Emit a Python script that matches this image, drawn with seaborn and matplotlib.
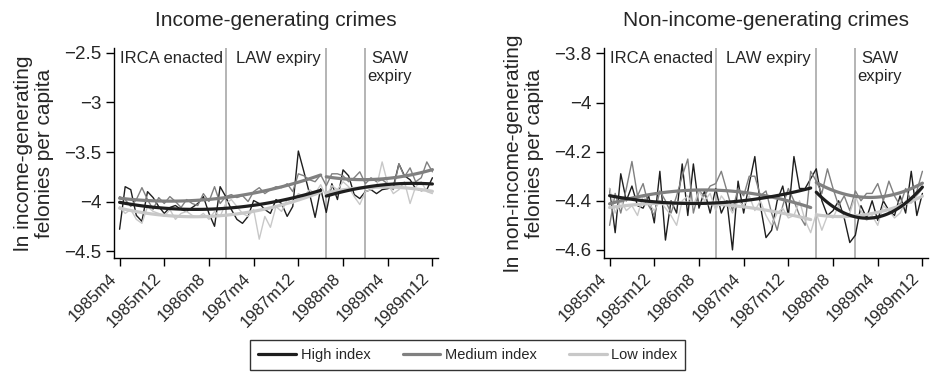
import matplotlib
matplotlib.use("Agg")
import matplotlib.pyplot as plt
import matplotlib.transforms as mtransforms
import seaborn as sns
import numpy as np
import pandas as pd

# months 1985m4 .. 1989m12 as index 0..56
months = np.arange(57)
tick_pos = [0, 8, 16, 24, 32, 40, 48, 56]
tick_lab = ["1985m4", "1985m12", "1986m8", "1987m4", "1987m12", "1988m8", "1989m4", "1989m12"]
events = [19, 37, 44]          # 1986m11, 1988m5, 1988m12
break_at = 37                  # fits are split at LAW expiry

series = ["High index", "Medium index", "Low index"]
colors = ["#1e1e1e", "#808080", "#c8c8c8"]

# income-generating crimes
inc_high = [-4.28, -3.85, -3.88, -4.14, -4.20, -3.90, -3.96, -4.05, -4.12, -4.06,
            -4.04, -4.08, -4.10, -4.06, -4.02, -3.95, -4.12, -4.25, -3.85, -3.95,
            -4.08, -4.18, -4.22, -4.15, -3.99, -4.02, -4.08, -4.12, -3.98, -4.02,
            -4.15, -4.05, -3.49, -3.70, -3.92, -4.16, -3.87, -4.11, -3.82, -3.98,
            -3.68, -3.74, -3.93, -3.97, -3.90, -3.88, -3.92, -3.88, -3.87, -3.85,
            -3.62, -3.74, -3.78, -3.87, -3.89, -3.88, -3.76]
inc_med = [-3.95, -3.98, -4.05, -3.98, -3.86, -3.98, -4.08, -3.96, -4.02, -3.95,
           -4.00, -4.06, -3.98, -4.02, -4.04, -3.92, -4.00, -3.85, -4.02, -3.95,
           -3.93, -3.96, -3.94, -4.00, -3.90, -3.86, -3.92, -3.88, -3.85, -3.86,
           -3.82, -3.90, -3.72, -3.74, -3.78, -3.80, -3.73, -3.84, -3.72, -3.72,
           -3.74, -3.80, -3.76, -3.70, -3.82, -3.76, -3.80, -3.78, -3.82, -3.88,
           -3.62, -3.75, -3.66, -3.80, -3.76, -3.60, -3.70]
inc_low = [-4.05, -4.12, -4.08, -4.18, -4.22, -4.05, -4.10, -4.12, -4.15, -4.08,
           -4.18, -4.12, -4.10, -4.14, -4.16, -4.12, -4.18, -4.10, -4.15, -4.02,
           -3.98, -4.05, -4.12, -4.15, -4.08, -4.38, -4.15, -4.26, -4.05, -4.10,
           -3.98, -4.02, -3.92, -3.95, -3.88, -3.92, -3.83, -3.95, -3.84, -3.88,
           -3.80, -3.85, -3.95, -4.03, -3.90, -3.88, -3.85, -3.60, -3.82, -3.92,
           -3.88, -3.80, -4.02, -3.85, -3.80, -3.90, -3.92]

# non-income-generating crimes
non_high = [-4.35, -4.53, -4.29, -4.40, -4.34, -4.42, -4.43, -4.38, -4.49, -4.28,
            -4.56, -4.40, -4.45, -4.25, -4.46, -4.25, -4.43, -4.36, -4.45, -4.35,
            -4.45, -4.40, -4.60, -4.32, -4.45, -4.33, -4.22, -4.42, -4.55, -4.52,
            -4.40, -4.34, -4.46, -4.22, -4.35, -4.35, -4.31, -4.27, -4.40, -4.46,
            -4.44, -4.40, -4.47, -4.57, -4.54, -4.42, -4.47, -4.40, -4.48, -4.40,
            -4.44, -4.46, -4.38, -4.45, -4.28, -4.46, -4.37]
non_med = [-4.50, -4.37, -4.45, -4.35, -4.24, -4.38, -4.33, -4.42, -4.46, -4.36,
           -4.40, -4.45, -4.38, -4.30, -4.23, -4.45, -4.36, -4.38, -4.34, -4.33,
           -4.28, -4.36, -4.44, -4.35, -4.38, -4.30, -4.30, -4.38, -4.36, -4.45,
           -4.52, -4.42, -4.35, -4.40, -4.46, -4.50, -4.28, -4.32, -4.37, -4.27,
           -4.35, -4.42, -4.38, -4.44, -4.36, -4.40, -4.37, -4.37, -4.33, -4.40,
           -4.32, -4.38, -4.42, -4.35, -4.40, -4.36, -4.28]
non_low = [-4.35, -4.45, -4.40, -4.44, -4.42, -4.46, -4.38, -4.41, -4.44, -4.40,
           -4.43, -4.46, -4.50, -4.40, -4.38, -4.42, -4.36, -4.40, -4.37, -4.44,
           -4.38, -4.41, -4.45, -4.40, -4.42, -4.38, -4.44, -4.40, -4.46, -4.50,
           -4.45, -4.43, -4.47, -4.46, -4.40, -4.48, -4.53, -4.45, -4.52, -4.46,
           -4.47, -4.42, -4.47, -4.45, -4.38, -4.44, -4.48, -4.46, -4.50, -4.42,
           -4.44, -4.47, -4.45, -4.40, -4.41, -4.38, -4.35]

inc_yticks = [-2.5, -3, -3.5, -4, -4.5]
non_yticks = [-3.8, -4, -4.2, -4.4, -4.6]

panels = [
    dict(title="Income-generating crimes",
         ylabel="ln income-generating\nfelonies per capita",
         data=[inc_high, inc_med, inc_low], yticks=inc_yticks, ylim=(-4.57, -2.45),
         left=114 / 932),
    dict(title="Non-income-generating crimes",
         ylabel="ln non-income-generating\nfelonies per capita",
         data=[non_high, non_med, non_low], yticks=non_yticks, ylim=(-4.633, -3.778),
         left=604 / 932),
]

sns.set_style("ticks")
plt.rcParams["font.family"] = ["Liberation Sans", "DejaVu Sans"]
plt.rcParams["axes.unicode_minus"] = True

fig = plt.figure(figsize=(9.32, 3.81), dpi=100)

for p in panels:
    ax = fig.add_axes([p["left"], 1 - 258 / 381, 324 / 932, 210 / 381])
    df = pd.DataFrame({
        "month": np.tile(months, 3),
        "value": np.concatenate(p["data"]),
        "series": np.repeat(series, len(months)),
    })
    sns.lineplot(data=df, x="month", y="value", hue="series", hue_order=series,
                 palette=colors, linewidth=1.0, legend=False, ax=ax)
    for ev in events:
        ax.axvline(ev, color="#a0a0a0", linewidth=1.1, zorder=1)
    # quadratic fits, one per segment
    for name, col in reversed(list(zip(series, colors))):
        sub = df[df["series"] == name]
        for seg in (sub[sub["month"] < break_at], sub[sub["month"] >= break_at]):
            sns.regplot(data=seg, x="month", y="value", order=2, ci=None, scatter=False,
                        truncate=True, color=col, line_kws=dict(linewidth=2.3), ax=ax)

    ax.set_xlim(-1, 57)
    ax.set_ylim(*p["ylim"])
    ax.set_yticks(p["yticks"])
    ax.set_yticklabels([f"{v:g}".replace("-", "\u2212") for v in p["yticks"]], fontsize=13.5)
    ax.set_xticks(tick_pos)
    ax.set_xticklabels(tick_lab, rotation=45, ha="right", fontsize=12)
    shift = mtransforms.ScaledTranslation(7 / 100, -4 / 100, fig.dpi_scale_trans)
    for lab in ax.get_xticklabels():
        lab.set_transform(lab.get_transform() + shift)
    ax.tick_params(axis="both", length=6, width=1, color="black", pad=3)
    ax.set_xlabel("")
    ax.set_ylabel(p["ylabel"], fontsize=15, linespacing=1.15)
    ax.yaxis.set_label_coords(-0.185, 0.5)
    ax.set_title(p["title"], fontsize=15, pad=16)
    sns.despine(ax=ax)
    for s in ("left", "bottom"):
        ax.spines[s].set_color("black")
        ax.spines[s].set_linewidth(1)

    tr = mtransforms.blended_transform_factory(ax.transData, ax.transAxes)
    ax.text(0, 0.985, "IRCA enacted", transform=tr, ha="left", va="top", fontsize=12)
    ax.text(20.8, 0.985, "LAW expiry", transform=tr, ha="left", va="top", fontsize=12)
    ax.text(48.4, 0.985, "SAW\nexpiry", transform=tr, ha="center", va="top",
            fontsize=12, linespacing=1.25)

handles = [plt.Line2D([], [], color=c, linewidth=2.3) for c in colors]
leg = fig.legend(handles, series, loc="center", bbox_to_anchor=(0.502, 0.067), ncol=3,
                 frameon=True, fancybox=False, fontsize=10.5, handlelength=2.6,
                 columnspacing=2.2, handletextpad=0.3, borderpad=0.55)
leg.get_frame().set_edgecolor("black")
leg.get_frame().set_linewidth(1)

fig.savefig("out.png", dpi=100)
